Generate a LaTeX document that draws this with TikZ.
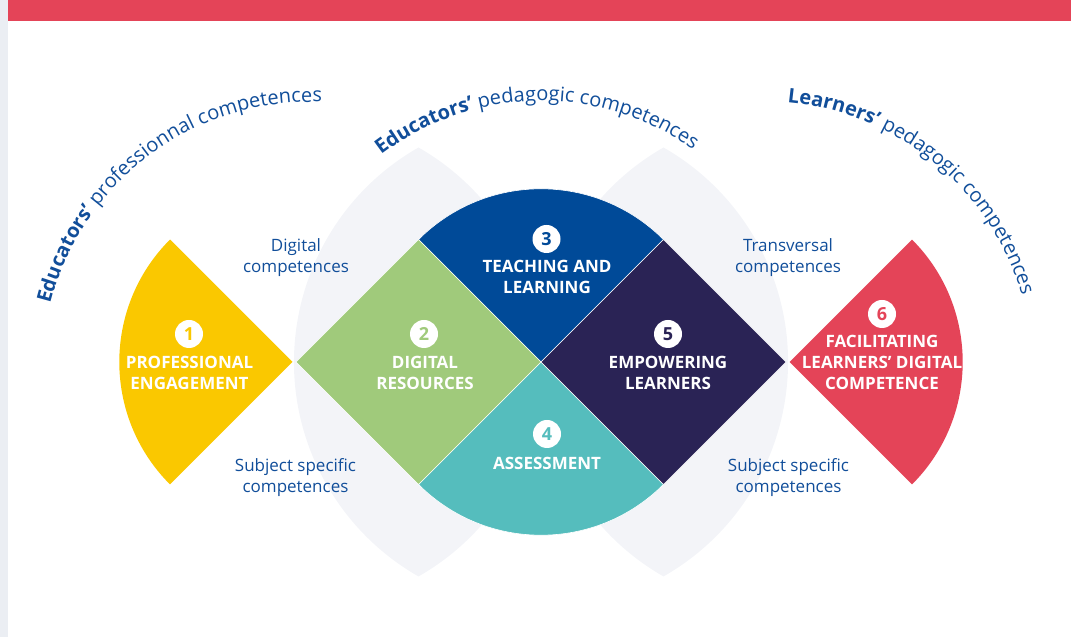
\documentclass[tikz,border=0pt]{standalone}
\usepackage{fontspec}
\setmainfont{Open Sans}
\usetikzlibrary{decorations.text}
\definecolor{engyellow}{HTML}{FAC800}
\definecolor{resgreen}{HTML}{A0CA7B}
\definecolor{teachblue}{HTML}{004A98}
\definecolor{assteal}{HTML}{55BDBD}
\definecolor{empnavy}{HTML}{2A2355}
\definecolor{facred}{HTML}{E44458}
\definecolor{lensgrey}{HTML}{F3F4F8}
\definecolor{stripgrey}{HTML}{EBEEF3}
\definecolor{txtblue}{HTML}{114E9A}
\newcommand\bowfont{\fontsize{20}{24}\selectfont}
\tikzset{
  sector/.style={draw=white, line width=0.6pt},
  lab/.style={text=white, font=\fontsize{17}{21}\selectfont\bfseries, align=center, inner sep=0pt},
  num/.style={circle, fill=white, minimum size=28pt, inner sep=0pt, font=\fontsize{18}{20}\selectfont\bfseries},
  side/.style={text=txtblue, font=\fontsize{17}{21}\selectfont, align=center, inner sep=0pt}
}
\begin{document}
\begin{tikzpicture}[x=1pt,y=1pt]
\useasboundingbox (0,0) rectangle (1071,637);
\fill[stripgrey] (0,0) rectangle (8,637);
\fill[facred] (8,616) rectangle (1071,637);
\coordinate (C) at (541,275);
\coordinate (Y) at (292.5,275);
\coordinate (R) at (789.5,275);
% grey lenses
\fill[lensgrey] (418.5,489.5) arc[start angle=119.73, end angle=240.27, radius=247]
  arc[start angle=-60.27, end angle=60.27, radius=247] -- cycle;
\fill[lensgrey] (663.5,489.5) arc[start angle=119.73, end angle=240.27, radius=247]
  arc[start angle=-60.27, end angle=60.27, radius=247] -- cycle;
% sectors and diamonds
\fill[engyellow] (Y) -- ++(135:173.2) arc[start angle=135, end angle=225, radius=173.2] -- cycle;
\fill[facred] (R) -- ++(-45:173.2) arc[start angle=-45, end angle=45, radius=173.2] -- cycle;
\filldraw[sector, fill=teachblue] (C) -- ++(45:173.2) arc[start angle=45, end angle=135, radius=173.2] -- cycle;
\filldraw[sector, fill=assteal] (C) -- ++(225:173.2) arc[start angle=225, end angle=315, radius=173.2] -- cycle;
\filldraw[sector, fill=resgreen] (C) -- ++(-122.5,122.5) -- ++(-122.5,-122.5) -- ++(122.5,-122.5) -- cycle;
\filldraw[sector, fill=empnavy] (C) -- ++(122.5,122.5) -- ++(122.5,-122.5) -- ++(-122.5,-122.5) -- cycle;
% numbers and labels
\node[num, text=engyellow] (n1) at (189,303) {1};
\node[lab] (l1) at (189.5,264.5) {PROFESSIONAL\\ENGAGEMENT};
\node[num, text=resgreen] (n2) at (424,303) {2};
\node[lab] (l2) at (425,264.5) {DIGITAL\\RESOURCES};
\node[num, text=teachblue] (n3) at (546.5,398) {3};
\node[lab] (l3) at (547,360) {TEACHING AND\\LEARNING};
\node[num, text=assteal] (n4) at (547,203) {4};
\node[lab] (l4) at (547,174) {ASSESSMENT};
\node[num, text=empnavy] (n5) at (668,303) {5};
\node[lab] (l5) at (668,264.5) {EMPOWERING\\LEARNERS};
\node[num, text=facred] (n6) at (882,323) {6};
\node[lab] (l6) at (882,275) {FACILITATING\\LEARNERS’ DIGITAL\\COMPETENCE};
\node[side] (s1) at (296,379) {Digital\\competences};
\node[side] (s2) at (295.5,159) {Subject specific\\competences};
\node[side] (s3) at (788,379) {Transversal\\competences};
\node[side] (s4) at (788.5,159) {Subject specific\\competences};
% curved headings
\path[decorate, decoration={text along path, text align=center, text color=txtblue,
  text={|\bowfont\bfseries|Educators’|\bowfont\mdseries| professionnal competences}}]
  (43.8,236.2) arc[start angle=186.6, end angle=66.6, radius=268];
\path[decorate, decoration={text along path, text align=center, text color=txtblue,
  text={|\bowfont\bfseries|Educators’|\bowfont\mdseries| pedagogic competences}}]
  (311.0,400.5) arc[start angle=151, end angle=31, radius=263];
\path[decorate, decoration={text along path, text align=center, text color=txtblue,
  text={|\bowfont\bfseries|Learners’|\bowfont\mdseries| pedagogic competences}}]
  (667.1,518.8) arc[start angle=110.5, end angle=-9.5, radius=271];
\end{tikzpicture}
\end{document}
